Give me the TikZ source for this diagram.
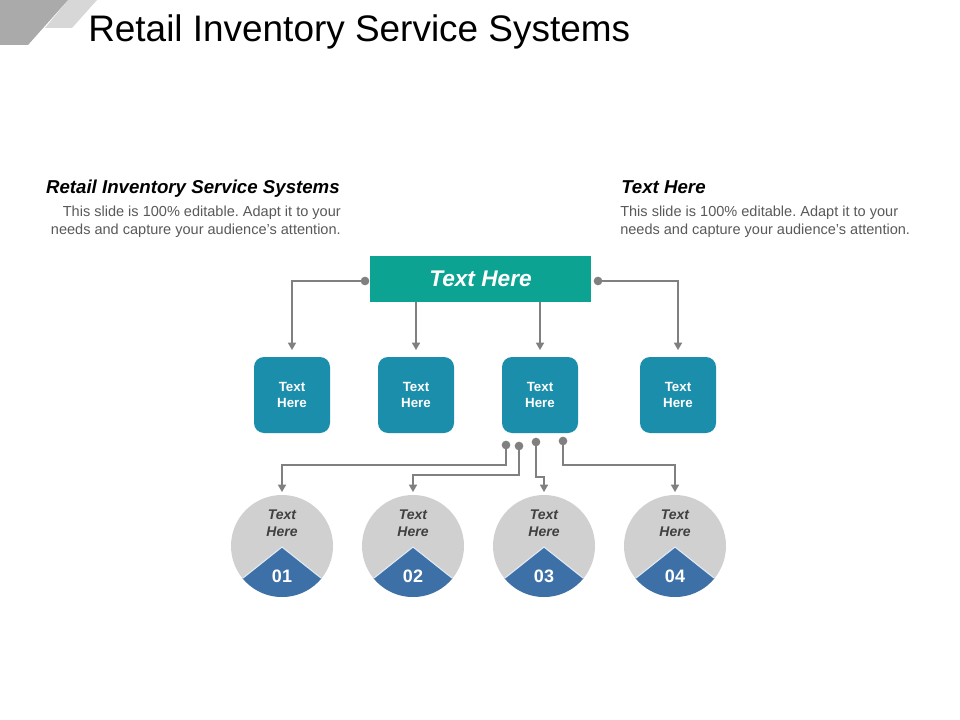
\documentclass[tikz,border=0pt]{standalone}
\usepackage{fontspec}
\setmainfont{Liberation Sans}
\usetikzlibrary{arrows.meta,calc}
\frenchspacing
\definecolor{tealtop}{RGB}{12,163,146}
\definecolor{boxblue}{RGB}{27,142,171}
\definecolor{segblue}{RGB}{62,112,168}
\definecolor{circgray}{RGB}{208,208,208}
\definecolor{conngray}{RGB}{128,128,128}
\definecolor{bodygray}{RGB}{89,89,89}
\definecolor{darktext}{RGB}{64,64,64}
\definecolor{decodark}{RGB}{170,170,170}
\definecolor{decolight}{RGB}{215,215,215}
\tikzset{
  topbox/.style={fill=tealtop, minimum width=165.75pt, minimum height=34.5pt, inner sep=0pt,
    text=white, font=\fontsize{17}{20}\selectfont\bfseries\itshape},
  smallbox/.style={fill=boxblue, rounded corners=7.5pt, minimum width=57pt, minimum height=57pt,
    inner sep=0pt, text=white, align=center, font=\fontsize{10}{12}\selectfont\bfseries},
  circbox/.style={circle, fill=circgray, minimum size=76.5pt, inner sep=0pt},
  circtext/.style={align=center, text=darktext, inner sep=0pt,
    font=\fontsize{10.5}{12.75}\selectfont\bfseries\itshape},
  numtext/.style={text=white, inner sep=0pt, font=\fontsize{13.5}{16}\selectfont\bfseries},
  dotnode/.style={circle, fill=conngray, minimum size=6.5pt, inner sep=0pt},
  conn/.style={draw=conngray, line width=1pt, -{Triangle[width=6pt,length=5.5pt]}},
  heading/.style={inner sep=0pt, font=\fontsize{14}{16}\selectfont\bfseries\itshape},
  bodytxt/.style={inner sep=0pt, text=bodygray, font=\fontsize{10.9}{13.5}\selectfont},
}
\begin{document}
\begin{tikzpicture}[x=0.75pt,y=-0.75pt]
\useasboundingbox (0,0) rectangle (960,720);
\fill[white] (0,0) rectangle (960,720);
% decoration
\fill[decolight] (68,0) -- (97,0) -- (72,28) -- (45,28) -- cycle;
\fill[decodark] (0,0) -- (68,0) -- (28,45) -- (0,45) -- cycle;
% title
\node[anchor=base west, inner sep=0pt, font=\fontsize{27.7}{32}\selectfont] (title) at (88,42) {Retail Inventory Service Systems};
% side texts
\node[heading, anchor=base east] (lh) at (340,194) {Retail Inventory Service Systems};
\node[bodytxt, anchor=base east] (lb1) at (341,217) {This slide is 100\% editable. Adapt it to your};
\node[bodytxt, anchor=base east] (lb2) at (341,235) {needs and capture your audience's attention.};
\node[heading, anchor=base west] (rh) at (621,194) {Text Here};
\node[bodytxt, anchor=base west] (rb1) at (620,217) {This slide is 100\% editable. Adapt it to your};
\node[bodytxt, anchor=base west] (rb2) at (620,235) {needs and capture your audience's attention.};
% top box
\node[topbox] (top) at (480.5,279) {Text Here};
% small boxes
\node[smallbox] (b1) at (292,395) {Text\\Here};
\node[smallbox] (b2) at (416,395) {Text\\Here};
\node[smallbox] (b3) at (540,395) {Text\\Here};
\node[smallbox] (b4) at (678,395) {Text\\Here};
% top connectors
\node[dotnode] (tl) at (365,281) {};
\node[dotnode] (tr) at (598,281) {};
\draw[conn, shorten >=5pt] (tl.center) -| (b1.north);
\draw[conn, shorten >=5pt] (tr.center) -| (b4.north);
\draw[conn, shorten >=5pt] (top.south -| b2.north) -- (b2.north);
\draw[conn, shorten >=5pt] (top.south -| b3.north) -- (b3.north);
% circles
\foreach \i/\cx/\n in {1/282/01, 2/413/02, 3/544/03, 4/675/04}{
  \node[circbox] (c\i) at (\cx,546) {};
  \begin{scope}
    \clip (c\i.center) circle[radius=38.25pt];
    \fill[segblue] ($(c\i.center)+(0,1)$) -- ($(c\i.center)+(-80,65)$) -- ($(c\i.center)+(80,65)$) -- cycle;
  \end{scope}
  \draw[white!85!segblue, line width=0.8pt] ($(c\i.center)+(-39,32)$) -- ($(c\i.center)+(0,1)$) -- ($(c\i.center)+(39,32)$);
  \node[circtext] (t\i) at (\cx,523.5) {Text\\Here};
  \node[numtext] (n\i) at (\cx,576) {\n};
}
% bottom connectors
\node[dotnode] (d1) at (506,445) {};
\node[dotnode] (d2) at (519,446) {};
\node[dotnode] (d3) at (536,442) {};
\node[dotnode] (d4) at (563,441) {};
\draw[conn, shorten >=2pt] (d1.center) -- ++(0,20) -| (c1.north);
\draw[conn, shorten >=2pt] (d2.center) -- ++(0,29) -| (c2.north);
\draw[conn, shorten >=2pt] (d3.center) -- ++(0,35) -| (c3.north);
\draw[conn, shorten >=2pt] (d4.center) -- ++(0,24) -| (c4.north);
\end{tikzpicture}
\end{document}
